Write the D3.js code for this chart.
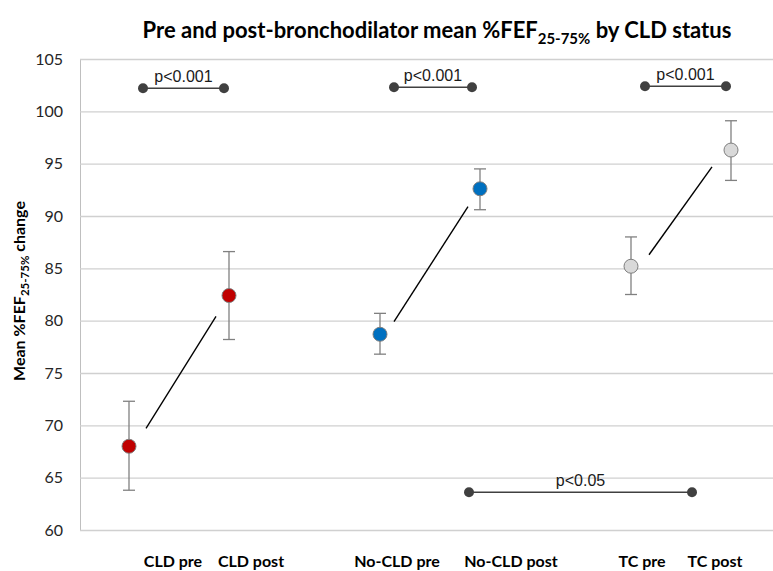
<!DOCTYPE html>
<html>
<head>
<meta charset="utf-8">
<script src="https://cdn.jsdelivr.net/npm/d3@7"></script>
<style>
  html, body { margin: 0; padding: 0; background: #fff; }
  svg { display: block; }
</style>
</head>
<body>
<svg id="chart" width="773" height="571"></svg>
<script>
// Groups, positions on the x scale and the summary values per group
const categories = ["CLD pre", "CLD post", "No-CLD pre", "No-CLD post", "TC pre", "TC post"];
const xPositions = [1, 2, 3.51, 4.51, 6.02, 7.02];
const means = [68.0, 82.4, 78.7, 92.6, 85.2, 96.3];
const errLow = [63.8, 78.2, 76.8, 90.6, 82.5, 93.4];
const errHigh = [72.3, 86.6, 80.7, 94.5, 88.0, 99.1];
const pointFills = ["#c00000", "#c00000", "#0070c0", "#0070c0", "#d9d9d9", "#d9d9d9"];

// Category label anchors under the axis (x-scale units)
const labelX = [1.44, 2.22, 3.68, 4.82, 6.13, 6.86];

// Connector lines between pre and post means
const trendStart = [[1.17, 69.7], [3.65, 79.9], [6.20, 86.3]];
const trendEnd = [[1.87, 80.4], [4.39, 90.9], [6.83, 94.7]];

// Significance brackets
const sigLabels = ["p<0.001", "p<0.001", "p<0.001", "p<0.05"];
const sigX0 = [1.14, 3.65, 6.16, 4.40];
const sigX1 = [1.95, 4.43, 6.97, 6.63];
const sigY = [102.2, 102.3, 102.4, 63.6];

const yTicks = [60, 65, 70, 75, 80, 85, 90, 95, 100, 105];

const svg = d3.select("#chart");
const plotLeft = 80, plotRight = 773, plotTop = 59, plotBottom = 530;
const uiFont = "Lato, 'Open Sans', sans-serif";

const x = d3.scaleLinear().domain([0.51, 7.44]).range([plotLeft, plotRight]);
const y = d3.scaleLinear().domain([60, 105]).range([plotBottom, plotTop]);

// Title with subscript, sized to span the top of the chart
const title = svg.append("text")
  .attr("x", 437).attr("y", 38)
  .attr("text-anchor", "middle")
  .style("font-family", uiFont)
  .style("font-weight", "bold")
  .attr("fill", "#000");
const tMain = title.append("tspan").text("Pre and post-bronchodilator mean %FEF");
const tSub = title.append("tspan").attr("dy", 6).text("25-75%");
const tEnd = title.append("tspan").attr("dy", -6).text(" by CLD status");
function sizeTitle(fs) {
  tMain.style("font-size", fs + "px");
  tEnd.style("font-size", fs + "px");
  tSub.style("font-size", (fs * 0.68) + "px");
}
sizeTitle(20);
const measured = title.node().getComputedTextLength();
sizeTitle(Math.min(22, 20 * 593 / measured));

// Horizontal gridlines and y axis
const yAxis = d3.axisLeft(y).tickValues(yTicks).tickSize(-(plotRight - plotLeft)).tickPadding(17);
const gY = svg.append("g").attr("transform", `translate(${plotLeft},0)`).call(yAxis);
gY.select(".domain").attr("stroke", "#bfbfbf");
gY.selectAll(".tick line").attr("stroke", "#d0d0d0").attr("stroke-width", 1.3);
gY.selectAll(".tick text")
  .style("font-family", uiFont)
  .style("font-size", "16px")
  .attr("fill", "#262626");

// Y axis title (rotated, with subscript)
const yTitle = svg.append("text")
  .attr("transform", "translate(25,291) rotate(-90)")
  .attr("text-anchor", "middle")
  .style("font-family", uiFont)
  .style("font-weight", "bold")
  .style("font-size", "16px")
  .attr("fill", "#000");
yTitle.append("tspan").text("Mean %FEF");
yTitle.append("tspan").attr("dy", 4).style("font-size", "11.5px").text("25-75%");
yTitle.append("tspan").attr("dy", -4).text(" change");

// Category labels
svg.append("g").selectAll("text")
  .data(categories)
  .join("text")
  .attr("x", (d, i) => x(labelX[i]))
  .attr("y", 567)
  .attr("text-anchor", "middle")
  .style("font-family", uiFont)
  .style("font-weight", "bold")
  .style("font-size", "16px")
  .attr("fill", "#000")
  .text(d => d);

// Connector lines
svg.append("g").selectAll("line")
  .data(trendStart)
  .join("line")
  .attr("x1", d => x(d[0])).attr("y1", d => y(d[1]))
  .attr("x2", (d, i) => x(trendEnd[i][0])).attr("y2", (d, i) => y(trendEnd[i][1]))
  .attr("stroke", "#000").attr("stroke-width", 1.4);

// Error bars
const eb = svg.append("g").attr("stroke", "#808080").attr("stroke-width", 1.3);
xPositions.forEach((xv, i) => {
  eb.append("line").attr("x1", x(xv)).attr("x2", x(xv)).attr("y1", y(errLow[i])).attr("y2", y(errHigh[i]));
  eb.append("line").attr("x1", x(xv) - 6).attr("x2", x(xv) + 6).attr("y1", y(errLow[i])).attr("y2", y(errLow[i]));
  eb.append("line").attr("x1", x(xv) - 6).attr("x2", x(xv) + 6).attr("y1", y(errHigh[i])).attr("y2", y(errHigh[i]));
});

// Mean markers
svg.append("g").selectAll("circle")
  .data(means)
  .join("circle")
  .attr("cx", (d, i) => x(xPositions[i]))
  .attr("cy", d => y(d))
  .attr("r", 7)
  .attr("fill", (d, i) => pointFills[i])
  .attr("stroke", "#7f7f7f")
  .attr("stroke-width", 1);

// Significance brackets
const sig = svg.append("g");
sigLabels.forEach((lab, i) => {
  const g = sig.append("g");
  g.append("line")
    .attr("x1", x(sigX0[i])).attr("x2", x(sigX1[i]))
    .attr("y1", y(sigY[i])).attr("y2", y(sigY[i]))
    .attr("stroke", "#404040").attr("stroke-width", 1.5);
  [sigX0[i], sigX1[i]].forEach(v => {
    g.append("circle").attr("cx", x(v)).attr("cy", y(sigY[i])).attr("r", 5).attr("fill", "#404040");
  });
  g.append("text")
    .attr("x", (x(sigX0[i]) + x(sigX1[i])) / 2)
    .attr("y", y(sigY[i]) - 6)
    .attr("text-anchor", "middle")
    .style("font-family", "'Liberation Sans', Arial, sans-serif")
    .style("font-size", "16px")
    .attr("fill", "#1a1a1a")
    .text(lab);
});
</script>
</body>
</html>
